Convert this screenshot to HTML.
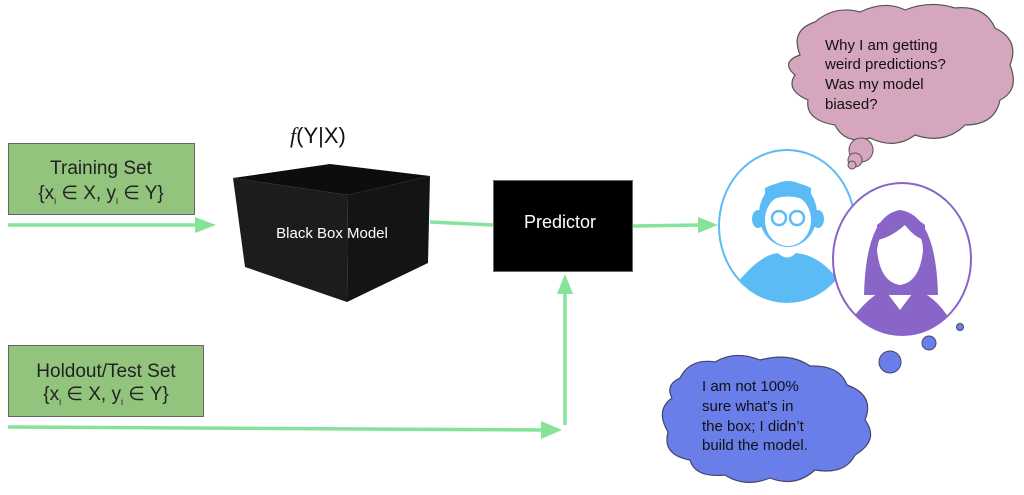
<!DOCTYPE html>
<html><head><meta charset="utf-8"><style>
body{margin:0;width:1024px;height:490px;background:#fff;overflow:hidden;font-family:"Liberation Sans",sans-serif}
</style></head><body>
<svg width="1024" height="490" viewBox="0 0 1024 490" xmlns="http://www.w3.org/2000/svg">
<!-- training set -->
<rect x="8.5" y="143.5" width="186" height="71" fill="#93c47d" stroke="#666" stroke-width="1"/>
<text x="101" y="174" font-size="19" text-anchor="middle" fill="#222">Training Set</text>
<text x="101" y="199" font-size="19" text-anchor="middle" fill="#222">{x<tspan font-size="9" dy="5">i</tspan><tspan dy="-5"> ∈ X, y</tspan><tspan font-size="9" dy="5">i</tspan><tspan dy="-5"> ∈ Y}</tspan></text>
<!-- holdout -->
<rect x="8.5" y="345.5" width="195" height="71" fill="#93c47d" stroke="#666" stroke-width="1"/>
<text x="106" y="377" font-size="19" text-anchor="middle" fill="#222">Holdout/Test Set</text>
<text x="106" y="400" font-size="19" text-anchor="middle" fill="#222">{x<tspan font-size="9" dy="5">i</tspan><tspan dy="-5"> ∈ X, y</tspan><tspan font-size="9" dy="5">i</tspan><tspan dy="-5"> ∈ Y}</tspan></text>
<!-- arrows -->
<g stroke="#86e39a" stroke-width="3.5" fill="none">
<line x1="8" y1="225" x2="198" y2="225"/>
<line x1="430" y1="222" x2="493" y2="225"/>
<line x1="632" y1="226" x2="700" y2="225"/>
<line x1="8" y1="427" x2="545" y2="430"/>
<line x1="565" y1="425" x2="565" y2="292"/>
</g>
<g fill="#86e39a">
<polygon points="195,217 216,225 195,233"/>
<polygon points="698,217 718,225 698,233"/>
<polygon points="541,421 562,430 541,439"/>
<polygon points="557,294 565,274 573,294"/>
</g>
<!-- black box -->
<polygon points="233,178 330,164 430,176 348,195" fill="#0d0d0d"/>
<polygon points="233,178 348,195 347,302 245,267" fill="#1c1c1c"/>
<polygon points="348,195 430,176 428,263 347,302" fill="#141414"/>
<text x="332" y="238" font-size="15" text-anchor="middle" fill="#fff">Black Box Model</text>
<text x="290" y="143" font-size="22" fill="#111"><tspan font-family="Liberation Serif" font-style="italic">f</tspan>(Y|X)</text>
<!-- predictor -->
<rect x="493.5" y="180.5" width="139" height="91" fill="#000" stroke="#667" stroke-width="1"/>
<text x="560" y="228" font-size="18" text-anchor="middle" fill="#fff">Predictor</text>
<!-- man -->
<ellipse cx="787" cy="226" rx="68" ry="76" fill="#fff" stroke="#5bbcf5" stroke-width="2"/>
<clipPath id="mc"><ellipse cx="787" cy="226" rx="68" ry="76"/></clipPath>
<g clip-path="url(#mc)" fill="#5bbcf5">
<path d="M738,282 Q760,255 778,253 Q787,262 796,253 Q820,255 840,282 L840,305 L738,305Z"/>
</g>
<ellipse cx="758" cy="219" rx="6" ry="9" fill="#5bbcf5"/>
<ellipse cx="818" cy="219" rx="6" ry="9" fill="#5bbcf5"/>
<ellipse cx="788" cy="214" rx="29" ry="33" fill="#5bbcf5"/>
<ellipse cx="788" cy="220" rx="23" ry="26" fill="#fff"/>
<path d="M765,203 Q788,190 811,203 L811,188 Q788,176 765,188Z" fill="#5bbcf5"/>
<circle cx="779" cy="218" r="7" fill="none" stroke="#5bbcf5" stroke-width="2.5"/>
<circle cx="797" cy="218" r="7" fill="none" stroke="#5bbcf5" stroke-width="2.5"/>
<!-- woman -->
<ellipse cx="902" cy="259" rx="69" ry="76" fill="#fff" stroke="#8965c8" stroke-width="2"/>
<clipPath id="wc"><ellipse cx="902" cy="259" rx="69" ry="76"/></clipPath>
<g clip-path="url(#wc)" fill="#8965c8">
<path d="M864,295 Q866,215 900,210 Q936,215 938,295Z"/>
<path d="M851,320 Q870,295 885,290 L900,310 L915,290 Q935,295 950,320 L950,340 L851,340Z"/>
</g>
<path d="M877,250 Q880,225 900,223 Q922,225 923,250 Q920,282 900,285 Q880,282 877,250Z" fill="#fff"/>
<path d="M877,240 Q890,238 905,225 Q915,238 925,240 L925,225 Q900,205 877,225Z" fill="#8965c8"/>
<!-- pink cloud -->
<path d="M800,55 Q790,30 815,22 Q835,5 860,12 Q885,0 905,10 Q930,0 955,8 Q985,5 995,28 Q1020,40 1010,65 Q1020,90 1000,100 Q995,125 965,125 Q945,145 915,135 Q895,150 870,138 Q845,145 835,125 Q805,120 808,100 Q785,90 795,75 Q780,62 800,55Z" fill="#d5a6bd" stroke="#555" stroke-width="1.2"/>
<circle cx="861" cy="150" r="12" fill="#d5a6bd" stroke="#555"/>
<circle cx="855" cy="160" r="7" fill="#d5a6bd" stroke="#555"/>
<circle cx="852" cy="165" r="4" fill="#d5a6bd" stroke="#555"/>
<g font-size="15" fill="#111">
<text x="825" y="50">Why I am getting</text>
<text x="825" y="69">weird predictions?</text>
<text x="825" y="89">Was my model</text>
<text x="825" y="109">biased?</text>
</g>
<!-- blue cloud -->
<circle cx="960" cy="327" r="3.5" fill="#6a7eea" stroke="#446"/>
<circle cx="929" cy="343" r="7" fill="#6a7eea" stroke="#446"/>
<circle cx="890" cy="362" r="11" fill="#6a7eea" stroke="#446"/>
<path d="M680,378 Q690,358 715,362 Q735,350 760,360 Q790,352 810,366 Q840,365 847,385 Q875,395 865,420 Q880,440 855,455 Q845,475 815,470 Q795,488 770,478 Q745,488 725,475 Q695,478 690,460 Q662,455 668,432 Q655,410 672,398 Q665,385 680,378Z" fill="#6a7eea" stroke="#446" stroke-width="1.2"/>
<g font-size="15" fill="#111">
<text x="702" y="391">I am not 100%</text>
<text x="702" y="411">sure what’s in</text>
<text x="702" y="431">the box; I didn’t</text>
<text x="702" y="450">build the model.</text>
</g>
</svg>
</body></html>
